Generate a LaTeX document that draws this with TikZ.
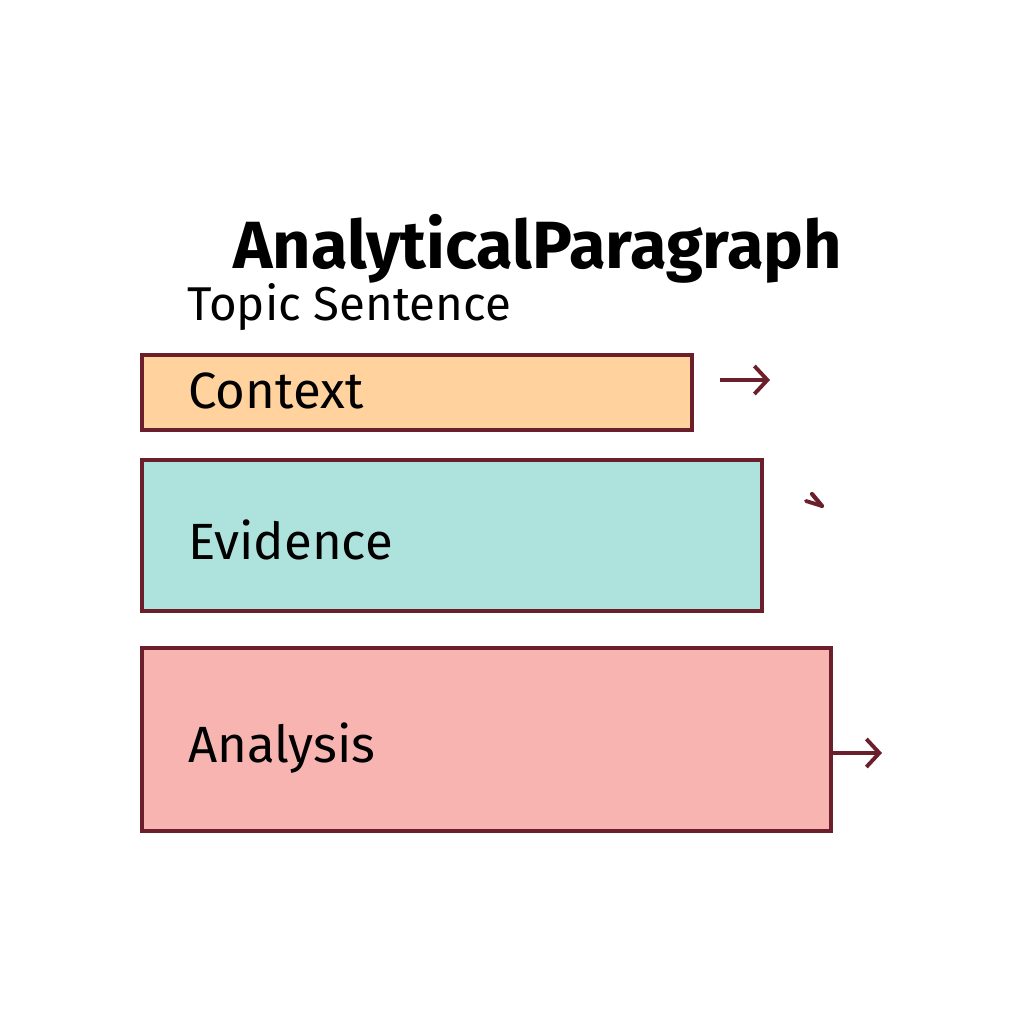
\documentclass[tikz,border=0pt]{standalone}
\usepackage{fontspec}
\setmainfont{Fira Sans}
\usetikzlibrary{arrows.meta}
\definecolor{edge}{HTML}{6B1F2A}
\definecolor{ctxfill}{HTML}{FFD29E}
\definecolor{evfill}{HTML}{AEE3DD}
\definecolor{anfill}{HTML}{F8B4B1}
\tikzset{
  blk/.style={draw=edge, line width=2pt, anchor=north west, inner sep=0pt},
  lbl/.style={anchor=west, font=\fontsize{29}{32}\selectfont, text=black},
  arr/.style={draw=edge, line width=2.2pt, -{Straight Barb[length=0.26cm,width=0.56cm,line width=2.2pt]}},
}
\begin{document}
\begin{tikzpicture}[x=0.02cm,y=-0.02cm]
\useasboundingbox[fill=white] (0,0) rectangle (1024,1024);
\node[anchor=base west, font=\fontsize{38}{42}\selectfont\bfseries, inner sep=0pt, text depth=0pt] (title) at (233,268) {AnalyticalParagraph};
\node[anchor=base west, font=\fontsize{27}{30}\selectfont, inner sep=0pt, text height=14pt] (topic) at (187,320) {Topic Sentence};
\node[blk, fill=ctxfill, minimum width=550*0.02cm, minimum height=75*0.02cm] (ctx) at (140,353) {};
\node[blk, fill=evfill, minimum width=620*0.02cm, minimum height=151*0.02cm] (ev) at (140,458) {};
\node[blk, fill=anfill, minimum width=689*0.02cm, minimum height=183*0.02cm] (an) at (140,646) {};
\node[lbl] (ctxl) at (182,391) {Context};
\node[lbl] (evl) at (182,540) {Evidence};
\node[lbl] (anl) at (182,748) {Analysis};
\coordinate (c1) at (720,380);
\coordinate (c2) at (770,380);
\draw[arr] (c1) -- (c2);
\coordinate (a2) at (882,753);
\draw[arr] (an.east |- a2) -- (a2);
\coordinate (glyph) at (822,506);
\draw[edge, line width=2.4pt, line cap=round] (glyph) -- ++(-10,-12);
\draw[edge, line width=2.2pt, line cap=round] (glyph) -- ++(-16,-5);
\end{tikzpicture}
\end{document}
